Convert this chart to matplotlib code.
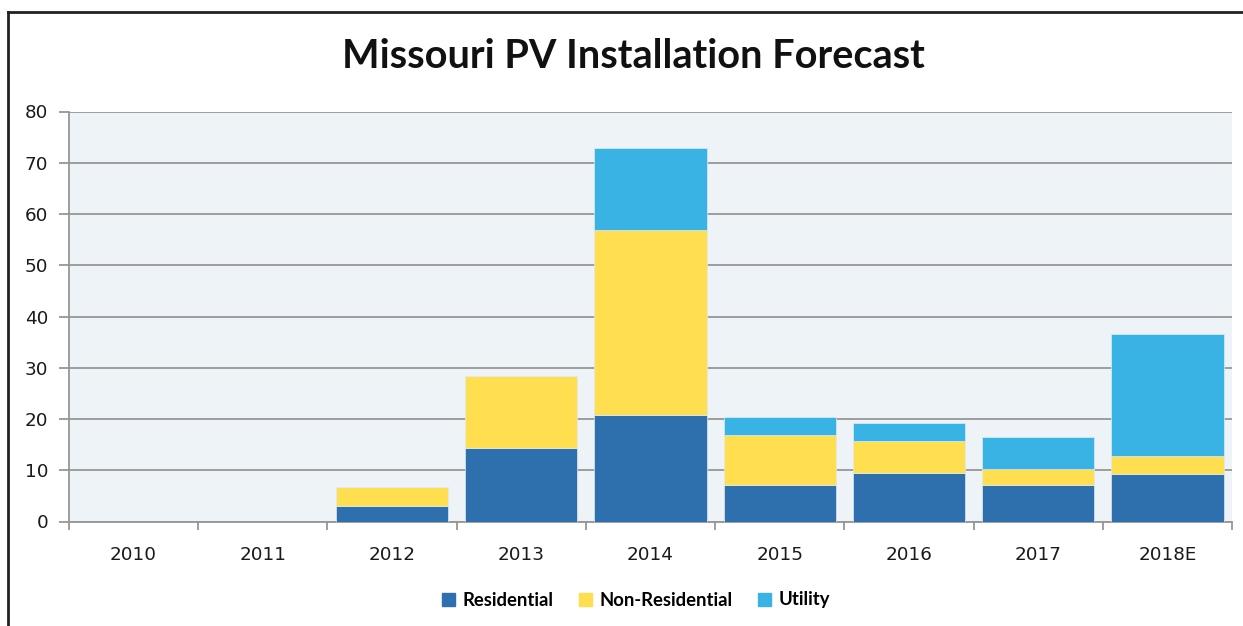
import numpy as np
import matplotlib
matplotlib.use("Agg")
import matplotlib.pyplot as plt
from matplotlib.patches import Patch

years = ["2010", "2011", "2012", "2013", "2014", "2015", "2016", "2017", "2018E"]
residential = [0, 0, 3.0, 14.4, 20.7, 7.1, 9.5, 7.1, 9.2]
non_residential = [0, 0, 3.7, 14.0, 36.2, 9.7, 6.3, 3.1, 3.5]
utility = [0, 0, 0, 0, 15.9, 3.5, 3.5, 6.3, 23.9]

c_res = "#2E70AD"
c_non = "#FFDF4F"
c_util = "#38B3E4"
grid_c = "#969696"

fig = plt.figure(figsize=(12.43, 6.26), dpi=100)
ax = fig.add_axes([69 / 1243, 1 - 521.5 / 626, (1232 - 69) / 1243, 410 / 626])
ax.set_facecolor("#EEF3F7")

x = np.arange(len(years))
res = np.array(residential)
non = np.array(non_residential)
util = np.array(utility)
w = 0.87
ec = "#dfeaf3"
ax.bar(x, res, w, color=c_res, edgecolor=ec, linewidth=0.5, zorder=3)
ax.bar(x, non, w, bottom=res, color=c_non, edgecolor=ec, linewidth=0.5, zorder=3)
ax.bar(x, util, w, bottom=res + non, color=c_util, edgecolor=ec, linewidth=0.5, zorder=3)

ax.set_xlim(-0.5, len(years) - 0.5)
ax.set_ylim(0, 80)
ax.set_yticks(range(0, 81, 10))
ax.yaxis.grid(True, color=grid_c, linewidth=1.3, zorder=1)
ax.set_axisbelow(True)

ax.set_xticks(x)
ax.set_xticklabels(years)
ax.set_xticks(np.arange(-0.5, len(years)), minor=True)
ax.tick_params(axis="x", which="major", length=0, pad=18, labelsize=13.2, colors="#1a1a1a")
ax.tick_params(axis="x", which="minor", length=6, width=1.3, color=grid_c)
ax.tick_params(axis="y", length=7, width=1.3, color=grid_c, pad=8, labelsize=13.2, labelcolor="#1a1a1a")

for s in ["top", "right"]:
    ax.spines[s].set_visible(False)
for s in ["left", "bottom"]:
    ax.spines[s].set_color(grid_c)
    ax.spines[s].set_linewidth(1.3)

fig.text(633 / 1243, 1 - 57 / 626, "Missouri PV Installation Forecast", ha="center", va="center",
         fontsize=28.5, fontweight="bold", family=["Lato", "DejaVu Sans"], color="#111111")

# outer frame (left and top edges only visible)
fig.add_artist(plt.Line2D([8 / 1243, 8 / 1243], [0, 1 - 12 / 626], color="#222222", linewidth=2, transform=fig.transFigure))
fig.add_artist(plt.Line2D([8 / 1243, 1], [1 - 12 / 626, 1 - 12 / 626], color="#222222", linewidth=2, transform=fig.transFigure))

handles = [Patch(color=c_res, label="Residential"),
           Patch(color=c_non, label="Non-Residential"),
           Patch(color=c_util, label="Utility")]
fig.legend(handles=handles, loc="center", bbox_to_anchor=(636 / 1243, 1 - 600 / 626), ncol=3, frameon=False,
           handlelength=0.7, handleheight=0.7, handletextpad=0.4, columnspacing=1.4,
           prop={"family": ["Lato", "DejaVu Sans"], "weight": "bold", "size": 13.3})

fig.savefig("out.png", dpi=100, facecolor="white")
